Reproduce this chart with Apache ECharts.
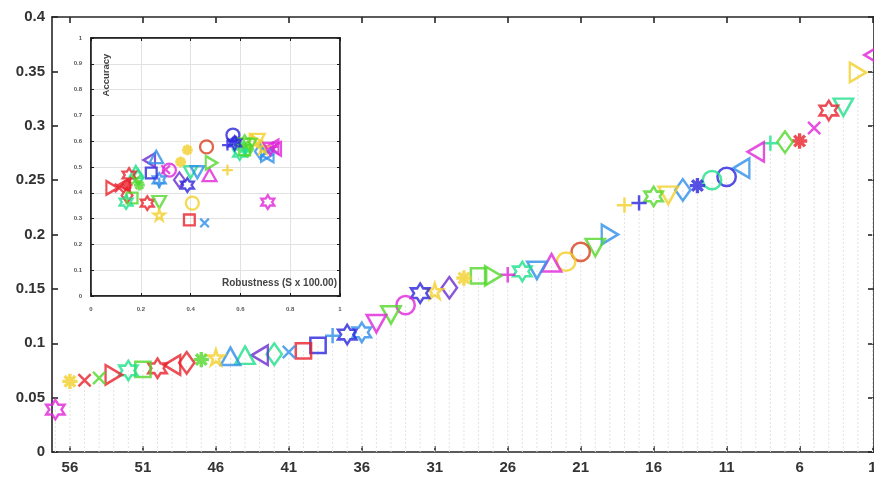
<!DOCTYPE html>
<html><head><meta charset="utf-8">
<script src="https://cdn.jsdelivr.net/npm/echarts@6/dist/echarts.min.js"></script>
<style>html,body{margin:0;padding:0;background:#fff}#c{width:874px;height:480px}</style>
</head><body><div id="c"></div>
<script>
// rank (x), score (main y), robustness & accuracy (inset), colour, marker
const ranks = [1,2,3,4,5,6,7,8,9,10,11,12,13,14,15,16,17,18,19,20,21,22,23,24,25,26,27,28,29,30,31,32,33,34,35,36,37,38,39,40,41,42,43,44,45,46,47,48,49,50,51,52,53,54,55,56,57];
const scores = [0.365,0.349,0.317,0.314,0.298,0.286,0.285,0.284,0.276,0.261,0.253,0.250,0.245,0.241,0.236,0.235,0.229,0.227,0.200,0.188,0.184,0.175,0.174,0.167,0.166,0.163,0.162,0.162,0.160,0.151,0.148,0.146,0.135,0.126,0.118,0.110,0.108,0.107,0.098,0.093,0.092,0.090,0.089,0.089,0.088,0.087,0.085,0.082,0.080,0.077,0.076,0.075,0.071,0.068,0.066,0.065,0.039];
const robustness = [0.74,0.66,0.40,0.226,0.30,0.145,0.63,0.62,0.73,0.71,0.57,0.60,0.58,0.68,0.67,0.617,0.548,0.548,0.706,0.637,0.464,0.407,0.476,0.427,0.597,0.73,0.484,0.617,0.36,0.355,0.69,0.577,0.315,0.274,0.72,0.274,0.387,0.274,0.242,0.395,0.456,0.19,0.234,0.18,0.262,0.274,0.194,0.145,0.133,0.153,0.165,0.141,0.085,0.18,0.113,0.387,0.71];
const accuracy = [0.57,0.60,0.48,0.36,0.49,0.43,0.57,0.56,0.58,0.545,0.624,0.57,0.60,0.56,0.605,0.597,0.585,0.488,0.547,0.585,0.578,0.36,0.469,0.48,0.554,0.578,0.516,0.566,0.52,0.45,0.574,0.593,0.488,0.364,0.57,0.45,0.43,0.438,0.477,0.295,0.283,0.46,0.527,0.48,0.539,0.314,0.43,0.39,0.43,0.469,0.38,0.364,0.419,0.45,0.419,0.566,0.364];
const colorNames = ['magenta','yellow','spring','red','magenta','red','green','spring','magenta','azure','blue','spring','blue','azure','yellow','green','blue','yellow','azure','green','orange','yellow','magenta','azure','spring','magenta','green','green','yellow','purple','yellow','blue','magenta','green','magenta','azure','blue','azure','blue','red','azure','spring','purple','spring','azure','yellow','green','red','red','red','green','spring','red','green','red','yellow','magenta'];
const shapeNames = ['ltri','rtri','dtri','hexagram','x','asterisk','diamond','plus','ltri','ltri','circle','circle','asterisk','diamond','dtri','hexagram','plus','plus','rtri','dtri','circle','circle','utri','dtri','hexagram','plus','rtri','square','asterisk','diamond','pentagram','hexagram','circle','dtri','dtri','hexagram','hexagram','plus','square','square','x','diamond','ltri','utri','utri','pentagram','asterisk','diamond','ltri','hexagram','square','hexagram','rtri','x','x','asterisk','hexagram'];
const xTickValues = [56,51,46,41,36,31,26,21,16,11,6,1];

const COLORS = {red:'#e8202a',orange:'#d8401e',yellow:'#f2d02a',green:'#52d82a',spring:'#1fe08c',azure:'#2f8fe8',blue:'#2a24dc',purple:'#6a2ad0',magenta:'#e024d8'};
const SHAPES = {
  circle:'circle', square:'rect', utri:'triangle', diamond:'diamond',
  dtri:'path://M0,0 L10,0 L5,9 Z',
  ltri:'path://M10,0 L10,10 L1,5 Z',
  rtri:'path://M0,0 L0,10 L9,5 Z',
  x:'path://M0,0 L10,10 M10,0 L0,10',
  plus:'path://M5,0 L5,10 M0,5 L10,5',
  asterisk:'path://M5,0 L5,10 M0,5 L10,5 M1.5,1.5 L8.5,8.5 M8.5,1.5 L1.5,8.5',
  hexagram:'path://M5,0 L6.443,2.5 L9.33,2.5 L7.887,5 L9.33,7.5 L6.443,7.5 L5,10 L3.557,7.5 L0.67,7.5 L2.113,5 L0.67,2.5 L3.557,2.5 Z',
  pentagram:'path://M5,0 L6.123,3.455 L9.755,3.455 L6.817,5.59 L7.939,9.045 L5,6.91 L2.061,9.045 L3.183,5.59 L0.245,3.455 L3.877,3.455 Z'
};
const SIZES = {circle:[18,18],square:[15,15],utri:[19,17],dtri:[19,17],ltri:[16,19],rtri:[16,19],diamond:[15,21],x:[12,12],plus:[15,15],asterisk:[15,15],hexagram:[18,19],pentagram:[15,15]};
const WIDTH_SCALE = {asterisk:1.35};

function makeItem(value, i, scale, bw){
  const shp = shapeNames[i];
  const s = SIZES[shp];
  return {
    value: value,
    symbol: SHAPES[shp],
    symbolSize: [s[0]*scale, s[1]*scale],
    itemStyle: {color:'rgba(0,0,0,0)', borderColor: COLORS[colorNames[i]], borderWidth: bw*(WIDTH_SCALE[shp]||1)}
  };
}
const mainData = ranks.map((r,i)=>makeItem([r, scores[i]], i, 1.02, 2.5));
const insetData = ranks.map((r,i)=>makeItem([robustness[i], accuracy[i]], i, 0.72, 2.3));
const stemData = ranks.map((r,i)=>[r, scores[i]]);

const font = 'Liberation Sans';
const chart = echarts.init(document.getElementById('c'), null, {renderer:'canvas'});
chart.setOption({
  animation:false,
  backgroundColor:'#fff',
  grid:[
    {left:52, right:0, top:17, bottom:28, show:false, containLabel:false, outerBoundsMode:'none'},
    {left:91, top:38, width:249, height:258, show:true, backgroundColor:'#fff', borderColor:'#1a1a1a', borderWidth:1.5, containLabel:false, outerBoundsMode:'none'}
  ],
  xAxis:[
    {gridIndex:0, type:'value', inverse:true, min:0.9, max:57.23, position:'bottom',
     axisLine:{onZero:false, lineStyle:{color:'#262626', width:1.6}},
     axisTick:{inside:true, length:6, customValues:xTickValues, lineStyle:{color:'#262626', width:1.6}},
     axisLabel:{customValues:xTickValues, fontFamily:font, fontSize:15, fontWeight:'bold', color:'#333', margin:8},
     splitLine:{show:false}},
    {gridIndex:1, type:'value', min:0, max:1, interval:0.2, position:'bottom',
     axisLine:{onZero:false, lineStyle:{color:'#1a1a1a', width:1.5}},
     axisTick:{inside:true, length:3, lineStyle:{color:'#1a1a1a'}},
     axisLabel:{fontFamily:font, fontSize:6, fontWeight:'bold', color:'#555', margin:10},
     splitLine:{show:true, lineStyle:{color:'#e2e2e2', width:1}}},
    {gridIndex:0, type:'value', inverse:true, min:0.9, max:57.23, position:'top',
     axisLine:{onZero:false, lineStyle:{color:'#262626', width:1.6}},
     axisTick:{inside:true, length:6, customValues:xTickValues, lineStyle:{color:'#262626', width:1.6}},
     axisLabel:{show:false}, splitLine:{show:false}},
    {gridIndex:1, type:'value', min:0, max:1, interval:0.2, position:'top',
     axisLine:{onZero:false, lineStyle:{color:'#1a1a1a', width:1.5}},
     axisTick:{inside:true, length:3, lineStyle:{color:'#1a1a1a'}},
     axisLabel:{show:false}, splitLine:{show:false}}
  ],
  yAxis:[
    {gridIndex:0, type:'value', min:0, max:0.4, interval:0.05, position:'left',
     axisLine:{show:true, onZero:false, lineStyle:{color:'#262626', width:1.6}},
     axisTick:{show:true, inside:true, length:6, lineStyle:{color:'#262626', width:1.6}},
     axisLabel:{fontFamily:font, fontSize:15, fontWeight:'bold', color:'#333', margin:7},
     splitLine:{show:false}},
    {gridIndex:1, type:'value', min:0, max:1, interval:0.1, position:'left',
     axisLine:{show:true, onZero:false, lineStyle:{color:'#1a1a1a', width:1.5}},
     axisTick:{show:true, inside:true, length:3, lineStyle:{color:'#1a1a1a'}},
     axisLabel:{fontFamily:font, fontSize:6, fontWeight:'bold', color:'#555', margin:9},
     splitLine:{show:true, lineStyle:{color:'#e2e2e2', width:1}}},
    {gridIndex:0, type:'value', min:0, max:0.4, interval:0.05, position:'right',
     axisLine:{show:true, onZero:false, lineStyle:{color:'#262626', width:1.6}},
     axisTick:{show:true, inside:true, length:6, lineStyle:{color:'#262626', width:1.6}},
     axisLabel:{show:false}, splitLine:{show:false}},
    {gridIndex:1, type:'value', min:0, max:1, interval:0.1, position:'right',
     axisLine:{show:true, onZero:false, lineStyle:{color:'#1a1a1a', width:1.5}},
     axisTick:{show:true, inside:true, length:3, lineStyle:{color:'#1a1a1a'}},
     axisLabel:{show:false}, splitLine:{show:false}}
  ],
  series:[
    {type:'custom', xAxisIndex:0, yAxisIndex:0, z:1, data:stemData, silent:true,
     renderItem:function(params, api){
       const p0 = api.coord([api.value(0), 0]);
       const p1 = api.coord([api.value(0), api.value(1)]);
       return {type:'line', shape:{x1:p0[0], y1:p0[1], x2:p1[0], y2:p1[1]},
               style:{stroke:'#e3e3e3', lineWidth:1, lineDash:[2,2]}};
     }},
    {type:'scatter', xAxisIndex:0, yAxisIndex:0, z:3, clip:false, data:mainData},
    {type:'scatter', xAxisIndex:1, yAxisIndex:1, z:5, clip:false, data:insetData}
  ],
  graphic:[
    {type:'text', x:106, y:75, rotation:Math.PI/2, z:100,
     style:{text:'Accuracy', font:'bold 9.5px "Liberation Sans"', fill:'#444', align:'center', verticalAlign:'middle'}},
    {type:'text', x:337, y:283, z:100,
     style:{text:'Robustness (S x 100.00)', font:'bold 10px "Liberation Sans"', fill:'#444', align:'right', verticalAlign:'middle'}}
  ]
});
</script>
</body></html>
